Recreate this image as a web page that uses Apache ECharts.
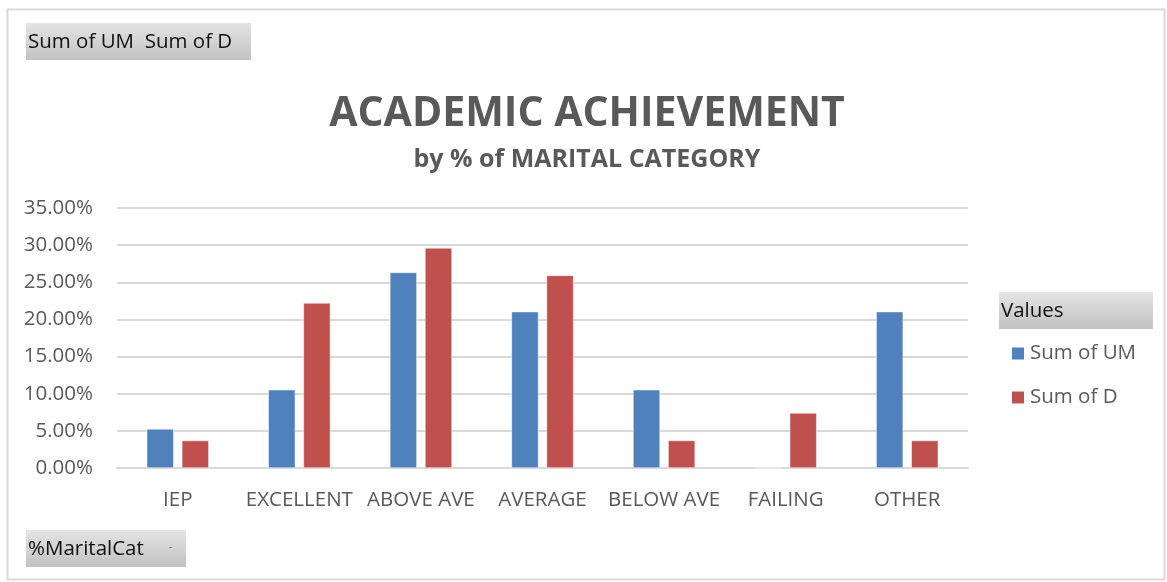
<!DOCTYPE html>
<html>
<head>
<meta charset="utf-8">
<title>Academic Achievement</title>
<script src="https://cdn.jsdelivr.net/npm/echarts@6/dist/echarts.min.js"></script>
<style>
  html, body { margin: 0; padding: 0; background: #fff; }
  #main { width: 1167px; height: 582px; }
</style>
</head>
<body>
<div id="main"></div>
<script>
// data
var categories = ['IEP', 'EXCELLENT', 'ABOVE AVE', 'AVERAGE', 'BELOW AVE', 'FAILING', 'OTHER']
var sumOfUM = [5.26, 10.53, 26.32, 21.05, 10.53, 0, 21.05]
var sumOfD = [3.70, 22.22, 29.63, 25.93, 3.70, 7.41, 3.70]
var yTicks = [0, 5, 10, 15, 20, 25, 30, 35]

var font = '"Open Sans", "Noto Sans", sans-serif'
var grey = '#595959'

// gray pivot-field buttons
function fieldButton (x, y, w, h, label) {
  return {
    type: 'group',
    left: x,
    top: y,
    children: [
      {
        type: 'rect',
        shape: { x: 0, y: 0, width: w, height: h },
        style: {
          fill: new echarts.graphic.LinearGradient(0, 0, 0, 1, [
            { offset: 0, color: '#e4e4e4' },
            { offset: 1, color: '#c2c2c2' }
          ])
        }
      },
      {
        type: 'text',
        x: 2,
        y: h / 2 + 1,
        style: { text: label, fill: '#111', font: '20.5px ' + font, verticalAlign: 'middle' }
      }
    ]
  }
}

var myChart = echarts.init(document.getElementById('main'))
var option = {
  backgroundColor: '#fff',
  animation: false,
  title: {
    text: 'ACADEMIC ACHIEVEMENT',
    subtext: 'by % of MARITAL CATEGORY',
    left: 582,
    textAlign: 'center',
    top: 89,
    itemGap: 12,
    textStyle: { color: grey, fontSize: 41, fontWeight: 'bold', fontFamily: font },
    subtextStyle: { color: grey, fontSize: 25, fontWeight: 'bold', fontFamily: font }
  },
  legend: {
    orient: 'vertical',
    left: 1010,
    top: 343,
    padding: 0,
    itemWidth: 14,
    itemHeight: 14,
    itemGap: 23,
    icon: 'rect',
    data: ['Sum of UM', 'Sum of D'],
    textStyle: { color: grey, fontSize: 20.5, fontFamily: font }
  },
  grid: {
    left: 117,
    right: 199,
    top: 208,
    bottom: 114,
    containLabel: false
  },
  xAxis: {
    type: 'category',
    data: categories,
    axisTick: { show: false },
    axisLine: { lineStyle: { color: '#d9d9d9', width: 2 } },
    axisLabel: { color: grey, fontSize: 20.5, fontFamily: font, margin: 22, interval: 0 }
  },
  yAxis: {
    type: 'value',
    min: yTicks[0],
    max: yTicks[yTicks.length - 1],
    interval: 5,
    axisLine: { show: false },
    axisTick: { show: false },
    axisLabel: {
      color: grey,
      fontSize: 20.5,
      fontFamily: font,
      margin: 24,
      formatter: function (v) { return v.toFixed(2) + '%' }
    },
    splitLine: { lineStyle: { color: '#d9d9d9', width: 2 } }
  },
  series: [
    {
      name: 'Sum of UM',
      type: 'bar',
      data: sumOfUM,
      barWidth: 27,
      barGap: '30%',
      itemStyle: { color: '#4f81bd', borderColor: '#fff', borderWidth: 0.5 }
    },
    {
      name: 'Sum of D',
      type: 'bar',
      data: sumOfD,
      barWidth: 27,
      itemStyle: { color: '#c0504d', borderColor: '#fff', borderWidth: 0.5 }
    }
  ],
  graphic: [
    {
      type: 'rect',
      left: 5,
      top: 7,
      shape: { x: 0, y: 0, width: 1157, height: 570 },
      style: { fill: null, stroke: '#d9d9d9', lineWidth: 2 },
      z: -10
    },
    fieldButton(26, 23, 225, 37, 'Sum of UM  Sum of D'),
    fieldButton(26, 530, 160, 37, '%MaritalCat'),
    fieldButton(999, 292, 154, 37, 'Values'),
    {
      type: 'text',
      left: 169,
      top: 542,
      style: { text: '-', fill: '#555', font: '10px ' + font }
    }
  ]
}
myChart.setOption(option)
</script>
</body>
</html>
